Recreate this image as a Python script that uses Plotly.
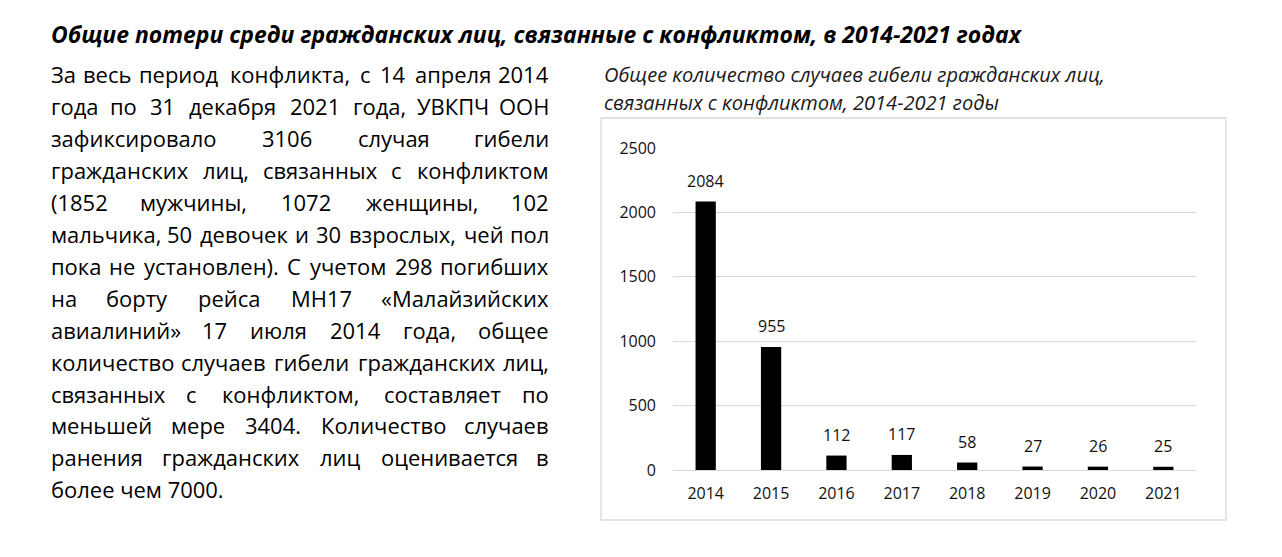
import plotly.graph_objects as go

# ---------------- data ----------------
years = ["2014", "2015", "2016", "2017", "2018", "2019", "2020", "2021"]
deaths = [2084, 955, 112, 117, 58, 27, 26, 25]
y_ticks = [0, 500, 1000, 1500, 2000, 2500]

title_text = "Общие потери среди гражданских лиц, связанные с конфликтом, в 2014-2021 годах"
subtitle_lines = [
    "Общее количество случаев гибели гражданских лиц,",
    "связанных с конфликтом, 2014-2021 годы",
]
body_lines = [
    "За весь период конфликта, с 14 апреля 2014",
    "года по 31 декабря 2021 года, УВКПЧ ООН",
    "зафиксировало 3106 случая гибели",
    "гражданских лиц, связанных с конфликтом",
    "(1852 мужчины, 1072 женщины, 102",
    "мальчика, 50 девочек и 30 взрослых, чей пол",
    "пока не установлен). С учетом 298 погибших",
    "на борту рейса МН17 «Малайзийских",
    "авиалиний» 17 июля 2014 года, общее",
    "количество случаев гибели гражданских лиц,",
    "связанных с конфликтом, составляет по",
    "меньшей мере 3404. Количество случаев",
    "ранения гражданских лиц оценивается в",
    "более чем 7000.",
]

# ---------------- layout helpers ----------------
W, H = 1282, 557
FONT = "Open Sans"


def px(x):
    return x / W


def py(y):
    return 1 - y / H


# approximate Open Sans advance widths (em)
CW = {
    " ": 0.26, ",": 0.245, ".": 0.266, "(": 0.29, ")": 0.29, "«": 0.49, "»": 0.49, "-": 0.32,
    "а": 0.556, "б": 0.60, "в": 0.57, "г": 0.44, "д": 0.58, "е": 0.561, "ж": 0.83,
    "з": 0.49, "и": 0.63, "й": 0.63, "к": 0.54, "л": 0.60, "м": 0.75, "н": 0.63,
    "о": 0.604, "п": 0.63, "р": 0.613, "с": 0.476, "т": 0.48, "у": 0.504, "ф": 0.79,
    "х": 0.516, "ц": 0.64, "ч": 0.60, "ш": 0.93, "щ": 0.94, "ъ": 0.66, "ы": 0.79,
    "ь": 0.56, "э": 0.49, "ю": 0.84, "я": 0.57,
    "З": 0.57, "У": 0.55, "В": 0.64, "К": 0.60, "П": 0.70, "Ч": 0.63, "О": 0.78,
    "Н": 0.74, "М": 0.90, "С": 0.63, "Л": 0.70,
}


def em_width(s):
    w = 0.0
    for ch in s:
        if ch.isdigit():
            w += 0.572
        else:
            w += CW.get(ch, 0.6)
    return w


fig = go.Figure()
fig.add_trace(go.Bar(
    x=years, y=deaths, marker=dict(color="#000000", line=dict(width=0)),
    hoverinfo="skip",
))

annotations = []

# data labels
for i, v in enumerate(deaths):
    annotations.append(dict(
        x=i, y=v, xref="x", yref="y", text=str(v), showarrow=False,
        yanchor="middle", yshift=21,
        font=dict(family=FONT, size=16, color="#111111"),
    ))

# page title
t_size = 977 / (em_width(title_text) * 1.03)
annotations.append(dict(
    x=px(49), y=py(34), xref="paper", yref="paper", xanchor="left", yanchor="middle",
    text="<b><i>" + title_text + "</i></b>", showarrow=False,
    font=dict(family=FONT, size=t_size, color="#000000"),
))

# chart subtitle
s_size = 510 / (em_width(subtitle_lines[0]) * 0.97)
for i, line in enumerate(subtitle_lines):
    annotations.append(dict(
        x=px(602), y=py(75 + i * 28), xref="paper", yref="paper",
        xanchor="left", yanchor="middle",
        text="<i>" + line + "</i>", showarrow=False,
        font=dict(family=FONT, size=s_size, color="#1a1a1a"),
    ))

# body text, justified between LEFT and RIGHT
LEFT, RIGHT = 49, 551
TW = RIGHT - LEFT
b_size = min(24, min(TW / em_width(l) for l in body_lines[:-1]) * 0.985)
for i, line in enumerate(body_lines):
    yc = 75 + i * 31.9
    bfont = dict(family=FONT, size=b_size, color="#000000")
    if i == len(body_lines) - 1:
        annotations.append(dict(
            x=px(LEFT), y=py(yc), xref="paper", yref="paper",
            xanchor="left", yanchor="middle", text=line, showarrow=False, font=bfont,
        ))
        continue
    words = line.split(" ")
    widths = [em_width(w) * b_size for w in words]
    gap = (TW - sum(widths)) / (len(words) - 1)
    x = LEFT
    for j, (w, ww) in enumerate(zip(words, widths)):
        if j == 0:
            xa, xp = "left", x
        elif j == len(words) - 1:
            xa, xp = "right", RIGHT
        else:
            xa, xp = "center", x + ww / 2
        annotations.append(dict(
            x=px(xp), y=py(yc), xref="paper", yref="paper",
            xanchor=xa, yanchor="middle", text=w, showarrow=False, font=bfont,
        ))
        x += ww + gap

fig.update_layout(
    width=W, height=H,
    margin=dict(l=0, r=0, t=0, b=0, pad=0, autoexpand=False),
    paper_bgcolor="#ffffff", plot_bgcolor="#ffffff",
    showlegend=False,
    bargap=0.69,
    annotations=annotations,
    shapes=[dict(
        type="rect", xref="paper", yref="paper",
        x0=px(601), x1=px(1226), y0=py(520), y1=py(118),
        line=dict(color="#d9d9d9", width=1.3), fillcolor="rgba(0,0,0,0)", layer="below",
    )],
    xaxis=dict(
        domain=[px(673), px(1196)], type="category", range=[-0.5, len(years) - 0.5],
        showgrid=False, showline=False,
        zeroline=False, ticks="", ticklabelstandoff=12,
        tickfont=dict(family=FONT, size=16, color="#111111"),
    ),
    yaxis=dict(
        domain=[py(470), py(148)], range=[0, 2500], tickvals=y_ticks,
        showgrid=True, gridcolor="#d9d9d9", gridwidth=1.3,
        zeroline=True, zerolinecolor="#d9d9d9", zerolinewidth=1.3,
        showline=False, ticks="", ticklabelstandoff=16,
        tickfont=dict(family=FONT, size=16, color="#111111"),
    ),
)

fig.write_html(
    "out.html",
    config={"displayModeBar": False},
    post_script="document.body.style.margin='0';document.body.style.overflow='hidden';",
)
